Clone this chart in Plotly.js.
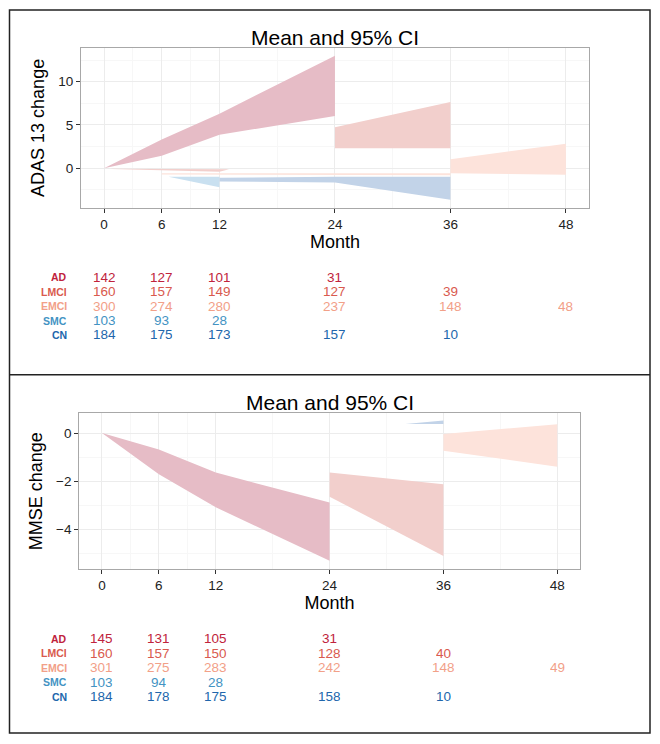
<!DOCTYPE html>
<html>
<head>
<meta charset="utf-8">
<script src="https://cdn.plot.ly/plotly-3.0.1.min.js"></script>
<style>
html,body{margin:0;padding:0;background:#fff;}
#chart{width:660px;height:744px;}
</style>
</head>
<body>
<div id="chart"></div>
<script>
// ---------- data ----------
const groups = ["AD", "LMCI", "EMCI", "SMC", "CN"];
const groupTextColors = ["#c0233c", "#d95a4e", "#f2a088", "#4393c3", "#2166ac"];
const groupFillColors = ["#e6bcc6", "#f2cfcc", "#fde3db", "#c9e0f0", "#c2d3e8"];
const months = [0, 6, 12, 24, 36, 48];
const monthTickText = ["0", "6", "12", "24", "36", "48"];

// ADAS 13 ribbons (months, lower, upper)
const adasADMonths = [0, 6, 12, 24];
const adasADLower = [0, 1.42, 3.85, 6.04];
const adasADUpper = [0, 3.3, 6.3, 13.0];
const adasLMCIMonths = [24, 36];
const adasLMCILower = [2.3, 2.3];
const adasLMCIUpper = [4.73, 7.65];
const adasEMCIMonths = [36, 48];
const adasEMCILower = [-0.58, -0.77];
const adasEMCIUpper = [1.04, 2.81];
const adasLMCI2Months = [0.8, 12, 13];
const adasLMCI2Lower = [-0.1, -0.42, -0.14];
const adasLMCI2Upper = [-0.06, -0.1, -0.12];
const adasEMCI2Months = [6, 36];
const adasEMCI2Lower = [-0.72, -0.82];
const adasEMCI2Upper = [-0.58, -0.6];
const adasSMCMonths = [6.7, 12];
const adasSMCLower = [-1.0, -2.2];
const adasSMCUpper = [-1.0, -1.0];
const adasCNMonths = [12, 24, 36];
const adasCNLower = [-1.55, -1.65, -3.65];
const adasCNUpper = [-1.1, -1.0, -1.0];

// MMSE ribbons
const mmseADMonths = [0, 6, 12, 24];
const mmseADLower = [0, -1.71, -3.08, -5.3];
const mmseADUpper = [0, -0.68, -1.64, -2.88];
const mmseLMCIMonths = [24, 36];
const mmseLMCILower = [-2.64, -5.1];
const mmseLMCIUpper = [-1.64, -2.12];
const mmseEMCIMonths = [36, 48];
const mmseEMCILower = [-0.73, -1.4];
const mmseEMCIUpper = [-0.04, 0.37];
const mmseCNMonths = [32, 36];
const mmseCNLower = [0.38, 0.38];
const mmseCNUpper = [0.38, 0.52];

// number of subjects at each month (null = none)
const adasCountAD   = [142, 127, 101, 31, null, null];
const adasCountLMCI = [160, 157, 149, 127, 39, null];
const adasCountEMCI = [300, 274, 280, 237, 148, 48];
const adasCountSMC  = [103, 93, 28, null, null, null];
const adasCountCN   = [184, 175, 173, 157, 10, null];
const mmseCountAD   = [145, 131, 105, 31, null, null];
const mmseCountLMCI = [160, 157, 150, 128, 40, null];
const mmseCountEMCI = [301, 275, 283, 242, 148, 49];
const mmseCountSMC  = [103, 94, 28, null, null, null];
const mmseCountCN   = [184, 178, 175, 158, 10, null];

// ---------- build ----------
const FONT = "Liberation Sans, Arial, Helvetica, sans-serif";
function ribbon(m, lo, up, color, xa, ya) {
  const xs = m.concat(m.slice().reverse());
  const ys = up.concat(lo.slice().reverse());
  return {x: xs, y: ys, xaxis: xa, yaxis: ya, type: "scatter", mode: "lines",
    fill: "toself", fillcolor: color, line: {width: 0, color: color},
    hoverinfo: "skip", showlegend: false};
}
const C = groupFillColors;
const traces = [
  ribbon(adasADMonths, adasADLower, adasADUpper, C[0], "x", "y"),
  ribbon(adasLMCIMonths, adasLMCILower, adasLMCIUpper, C[1], "x", "y"),
  ribbon(adasEMCIMonths, adasEMCILower, adasEMCIUpper, C[2], "x", "y"),
  ribbon(adasLMCI2Months, adasLMCI2Lower, adasLMCI2Upper, C[1], "x", "y"),
  ribbon(adasEMCI2Months, adasEMCI2Lower, adasEMCI2Upper, C[2], "x", "y"),
  ribbon(adasSMCMonths, adasSMCLower, adasSMCUpper, C[3], "x", "y"),
  ribbon(adasCNMonths, adasCNLower, adasCNUpper, C[4], "x", "y"),
  ribbon(mmseADMonths, mmseADLower, mmseADUpper, C[0], "x2", "y2"),
  ribbon(mmseLMCIMonths, mmseLMCILower, mmseLMCIUpper, C[1], "x2", "y2"),
  ribbon(mmseEMCIMonths, mmseEMCILower, mmseEMCIUpper, C[2], "x2", "y2"),
  ribbon(mmseCNMonths, mmseCNLower, mmseCNUpper, C[4], "x2", "y2")
];

const H = 744, W = 660;
const py = p => 1 - p / H;

const annotations = [];
function tableRows(counts, xref, rowYs) {
  counts.forEach((row, gi) => {
    annotations.push({xref: "paper", yref: "paper", x: 69 / W, y: py(rowYs[gi]),
      xanchor: "right", yanchor: "middle", showarrow: false, height: 12,
      text: "<b>" + groups[gi] + "</b>", font: {family: FONT, size: 10.5, color: groupTextColors[gi]}});
    row.forEach((v, mi) => {
      if (v === null) return;
      annotations.push({xref: xref, yref: "paper", x: months[mi], y: py(rowYs[gi]),
        xanchor: "center", yanchor: "middle", showarrow: false, height: 13,
        text: String(v), font: {family: FONT, size: 13.5, color: groupTextColors[gi]}});
    });
  });
}
tableRows([adasCountAD, adasCountLMCI, adasCountEMCI, adasCountSMC, adasCountCN], "x", [277, 291.5, 306, 320.5, 335]);
tableRows([mmseCountAD, mmseCountLMCI, mmseCountEMCI, mmseCountSMC, mmseCountCN], "x2", [638.5, 653, 667.5, 682, 696.5]);

// plot titles
annotations.push({xref: "paper", yref: "paper", x: 335 / W, y: py(38), xanchor: "center", yanchor: "middle",
  showarrow: false, text: "Mean and 95% CI", font: {family: FONT, size: 21, color: "#000"}});
annotations.push({xref: "paper", yref: "paper", x: 330 / W, y: py(402), xanchor: "center", yanchor: "middle",
  showarrow: false, text: "Mean and 95% CI", font: {family: FONT, size: 21, color: "#000"}});

function xaxisDef(domain, anchor) {
  return {domain: domain, anchor: anchor, range: [-2.4, 50.4], tickmode: "array",
    tickvals: months, ticktext: monthTickText, ticks: "outside", ticklen: 4, tickcolor: "#333",
    tickfont: {family: FONT, size: 13.5, color: "#222"}, showgrid: true, gridcolor: "#ececec", gridwidth: 1,
    minor: {tickvals: [3, 9, 18, 30, 42], showgrid: true, gridcolor: "#f7f7f7", ticks: ""},
    zeroline: false, showline: true, mirror: true, linecolor: "#a8a8a8", linewidth: 1,
    title: {text: "Month", font: {family: FONT, size: 18, color: "#000"}, standoff: 0},
    automargin: false, fixedrange: true};
}
function yaxisDef(domain, anchor, range, tv, minorv, titleText) {
  return {domain: domain, anchor: anchor, range: range, tickmode: "array", tickvals: tv,
    ticks: "outside", ticklen: 4, tickcolor: "#333",
    tickfont: {family: FONT, size: 13.5, color: "#222"}, showgrid: true, gridcolor: "#ececec",
    minor: {tickvals: minorv, showgrid: true, gridcolor: "#f7f7f7", ticks: ""},
    zeroline: false, showline: true, mirror: true, linecolor: "#a8a8a8", linewidth: 1,
    title: {text: titleText, font: {family: FONT, size: 18, color: "#000"}, standoff: 8},
    automargin: false, fixedrange: true};
}

const layout = {
  width: W, height: H, margin: {l: 0, r: 0, t: 0, b: 0},
  paper_bgcolor: "#fff", plot_bgcolor: "#fff", showlegend: false,
  xaxis: xaxisDef([80.9 / W, 589 / W], "y"),
  yaxis: yaxisDef([py(207.5), py(48.3)], "x", [-4.55, 13.86], [0, 5, 10], [-2.5, 2.5, 7.5, 12.5], "ADAS 13 change"),
  xaxis2: xaxisDef([79.2 / W, 580 / W], "y2"),
  yaxis2: yaxisDef([py(569), py(413.3)], "x2", [-5.64, 0.82], [-4, -2, 0], [-5, -3, -1], "MMSE change"),
  annotations: annotations,
  shapes: [
    {type: "rect", xref: "paper", yref: "paper", x0: 9.5 / W, x1: 650 / W, y0: py(733), y1: py(10),
      line: {color: "#222", width: 1.5}},
    {type: "line", xref: "paper", yref: "paper", x0: 9.5 / W, x1: 650 / W, y0: py(374.7), y1: py(374.7),
      line: {color: "#222", width: 1.5}}
  ]
};
Plotly.newPlot("chart", traces, layout, {displayModeBar: false, staticPlot: true});
</script>
</body>
</html>
